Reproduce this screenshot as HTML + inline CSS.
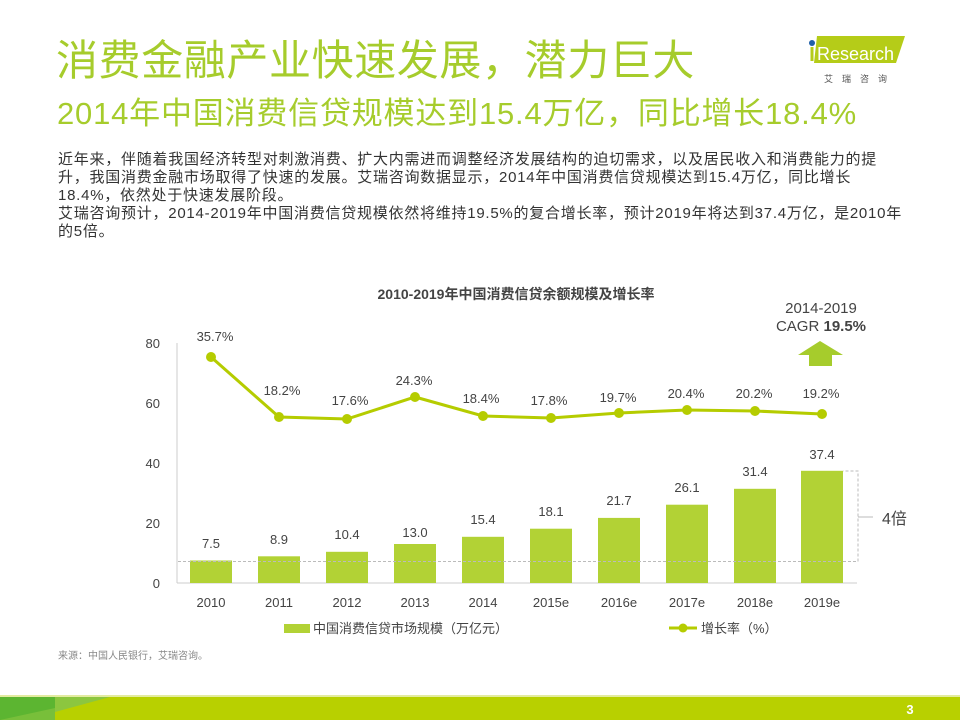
<!DOCTYPE html>
<html><head><meta charset="utf-8"><style>
body{margin:0;width:960px;height:720px;position:relative;background:#fff;overflow:hidden;font-family:"Liberation Sans","Noto Sans CJK SC",sans-serif;}
.a{position:absolute;white-space:nowrap;}
.t1{left:56px;top:36px;font-size:42px;color:#a6cc2c;line-height:50px;letter-spacing:0.6px;}
.t2{left:57px;top:95px;font-size:31px;color:#a6cc2c;line-height:38px;letter-spacing:0.8px;}
.body{left:58px;top:151px;font-size:15px;color:#333;line-height:18px;letter-spacing:0.75px;}
</style></head><body>
<div class="a t1">消费金融产业快速发展，潜力巨大</div>
<div class="a t2">2014年中国消费信贷规模达到15.4万亿，同比增长18.4%</div>
<div class="a body">近年来，伴随着我国经济转型对刺激消费、扩大内需进而调整经济发展结构的迫切需求，以及居民收入和消费能力的提<br>升，我国消费金融市场取得了快速的发展。艾瑞咨询数据显示，2014年中国消费信贷规模达到15.4万亿，同比增长<br>18.4%，依然处于快速发展阶段。<br>艾瑞咨询预计，2014-2019年中国消费信贷规模依然将维持19.5%的复合增长率，预计2019年将达到37.4万亿，是2010年<br>的5倍。</div>
<!-- logo -->
<svg class="a" style="left:800px;top:30px" width="160" height="60">
<polygon points="17,6 105,6 96,33 14,33" fill="#b5cc18"/>
<circle cx="12" cy="13" r="3" fill="#1f5fa8"/>
<rect x="10.5" y="17" width="3" height="14" fill="#b5cc18"/>
<text x="17" y="30" font-size="18" fill="#fff" font-family="Liberation Sans">Research</text>
<text x="24" y="52" font-size="9" fill="#555" letter-spacing="9">艾瑞咨询</text>
</svg>
<svg class="a" style="left:0;top:0" width="960" height="720" font-family="Liberation Sans, Noto Sans CJK SC, sans-serif">
<text x="516" y="299" font-size="14" font-weight="bold" fill="#444" text-anchor="middle">2010-2019年中国消费信贷余额规模及增长率</text>
<text x="821" y="313" font-size="15" fill="#444" text-anchor="middle">2014-2019</text>
<text x="821" y="331" font-size="15" fill="#444" text-anchor="middle">CAGR <tspan font-weight="bold">19.5%</tspan></text>
<polygon points="798,355 820,341 843,355 832,355 832,366 809,366 809,355" fill="#a6cc2c"/>
<line x1="177" y1="343" x2="177" y2="583" stroke="#ccc"/>
<line x1="177" y1="583" x2="857" y2="583" stroke="#ccc"/>
<g font-size="13" fill="#444" text-anchor="end">
<text x="160" y="348">80</text><text x="160" y="408">60</text><text x="160" y="468">40</text><text x="160" y="528">20</text><text x="160" y="588">0</text>
</g>
<g fill="#b2d235">
<rect x="190" y="560.5" width="42" height="22.5"/>
<rect x="258" y="556.3" width="42" height="26.7"/>
<rect x="326" y="551.8" width="42" height="31.2"/>
<rect x="394" y="544" width="42" height="39"/>
<rect x="462" y="536.8" width="42" height="46.2"/>
<rect x="530" y="528.7" width="42" height="54.3"/>
<rect x="598" y="517.9" width="42" height="65.1"/>
<rect x="666" y="504.7" width="42" height="78.3"/>
<rect x="734" y="488.8" width="42" height="94.2"/>
<rect x="801" y="470.8" width="42" height="112.2"/>
</g>
<path d="M178 561.5 H858 V471 H843" fill="none" stroke="#bbb" stroke-dasharray="3,2"/>
<line x1="858" y1="517" x2="873" y2="517" stroke="#bbb"/>
<text x="882" y="524" font-size="16" fill="#444">4倍</text>
<g font-size="13" fill="#444" text-anchor="middle">
<text x="211" y="548">7.5</text><text x="279" y="544">8.9</text><text x="347" y="539">10.4</text><text x="415" y="537">13.0</text><text x="483" y="524">15.4</text><text x="551" y="516">18.1</text><text x="619" y="505">21.7</text><text x="687" y="492">26.1</text><text x="755" y="476">31.4</text><text x="822" y="459">37.4</text>
</g>
<polyline points="211,357 279,417 347,419 415,397 483,416 551,418 619,413 687,410 755,411 822,414" fill="none" stroke="#b5cc00" stroke-width="3"/>
<g fill="#b5cc00">
<circle cx="211" cy="357" r="5"/><circle cx="279" cy="417" r="5"/><circle cx="347" cy="419" r="5"/><circle cx="415" cy="397" r="5"/><circle cx="483" cy="416" r="5"/><circle cx="551" cy="418" r="5"/><circle cx="619" cy="413" r="5"/><circle cx="687" cy="410" r="5"/><circle cx="755" cy="411" r="5"/><circle cx="822" cy="414" r="5"/>
</g>
<g font-size="13" fill="#444" text-anchor="middle">
<text x="215" y="341">35.7%</text><text x="282" y="395">18.2%</text><text x="350" y="405">17.6%</text><text x="414" y="385">24.3%</text><text x="481" y="403">18.4%</text><text x="549" y="405">17.8%</text><text x="618" y="402">19.7%</text><text x="686" y="398">20.4%</text><text x="754" y="398">20.2%</text><text x="821" y="398">19.2%</text>
</g>
<g font-size="13" fill="#444" text-anchor="middle">
<text x="211" y="607">2010</text><text x="279" y="607">2011</text><text x="347" y="607">2012</text><text x="415" y="607">2013</text><text x="483" y="607">2014</text><text x="551" y="607">2015e</text><text x="619" y="607">2016e</text><text x="687" y="607">2017e</text><text x="755" y="607">2018e</text><text x="822" y="607">2019e</text>
</g>
<rect x="284" y="624" width="26" height="9" fill="#b2d235"/>
<text x="313" y="633" font-size="13" fill="#444">中国消费信贷市场规模（万亿元）</text>
<line x1="669" y1="628" x2="697" y2="628" stroke="#b5cc00" stroke-width="3"/>
<circle cx="683" cy="628" r="4.5" fill="#b5cc00"/>
<text x="701" y="633" font-size="13" fill="#444">增长率（%）</text>
<text x="58" y="659" font-size="10" fill="#888">来源：中国人民银行，艾瑞咨询。</text>
<rect x="0" y="695" width="960" height="2" fill="#e3eba0"/>
<rect x="0" y="697" width="960" height="23" fill="#b8d000"/>
<polygon points="0,697 55,697 55,720 0,720" fill="#5cb531"/>
<polygon points="55,697 110,697 55,712" fill="#8cc63f"/>
<polygon points="0,720 55,708 55,720" fill="#78bf3a"/>
<text x="910" y="714" font-size="13" font-weight="bold" fill="#fff" text-anchor="middle">3</text>
</svg>
</body></html>
